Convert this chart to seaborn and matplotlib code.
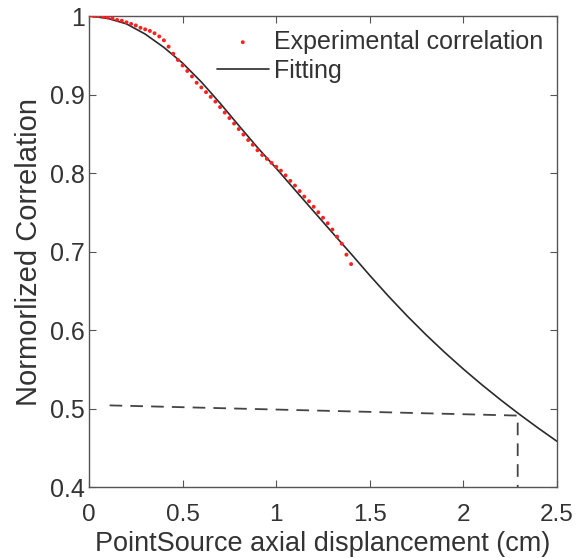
import numpy as np
import pandas as pd
import matplotlib
matplotlib.use("Agg")
import matplotlib.pyplot as plt
import seaborn as sns

# Fitted curve
fit_x = [0.0, 0.1, 0.2, 0.3, 0.4, 0.5, 0.6, 0.7, 0.8, 0.9, 1.0, 1.1, 1.2,
         1.3, 1.4, 1.5, 1.6, 1.7, 1.8, 1.9, 2.0, 2.1, 2.2, 2.3, 2.4, 2.5]
fit_y = [1.000, 0.997, 0.990, 0.977, 0.960, 0.940, 0.916, 0.889, 0.8605,
         0.8325, 0.806, 0.7785, 0.7512, 0.724, 0.697, 0.6695, 0.643, 0.6178,
         0.594, 0.5715, 0.5502, 0.530, 0.5108, 0.4925, 0.475, 0.4582]

# Experimental correlation points
exp_x = [0.000, 0.025, 0.050, 0.075, 0.100, 0.125, 0.150, 0.175, 0.200,
         0.225, 0.250, 0.275, 0.300, 0.325, 0.350, 0.375, 0.400, 0.425,
         0.450, 0.475, 0.500, 0.525, 0.550, 0.575, 0.600, 0.625, 0.650,
         0.675, 0.700, 0.725, 0.750, 0.775, 0.800, 0.825, 0.850, 0.875,
         0.900, 0.925, 0.950, 0.975, 1.000, 1.025, 1.050, 1.075, 1.100,
         1.125, 1.150, 1.175, 1.200, 1.225, 1.250, 1.275, 1.300, 1.325,
         1.350, 1.375, 1.400]
exp_y = [1.000, 1.000, 1.000, 0.999, 0.998, 0.997, 0.995, 0.994, 0.992,
         0.990, 0.988, 0.985, 0.983, 0.981, 0.978, 0.974, 0.969, 0.961,
         0.952, 0.944, 0.937, 0.930, 0.923, 0.915, 0.909, 0.903, 0.897,
         0.891, 0.884, 0.877, 0.870, 0.863, 0.856, 0.849, 0.842, 0.836,
         0.829, 0.823, 0.818, 0.813, 0.808, 0.803, 0.797, 0.790, 0.784,
         0.777, 0.770, 0.764, 0.757, 0.750, 0.743, 0.736, 0.728, 0.719,
         0.710, 0.696, 0.684]

# Dashed guide line (half-maximum marker)
guide_x = [0.11, 2.29, 2.29]
guide_y = [0.504, 0.491, 0.400]

x_ticks = [0, 0.5, 1, 1.5, 2, 2.5]
x_tick_labels = ["0", "0.5", "1", "1.5", "2", "2.5"]
y_ticks = [0.4, 0.5, 0.6, 0.7, 0.8, 0.9, 1.0]
y_tick_labels = ["0.4", "0.5", "0.6", "0.7", "0.8", "0.9", "1"]

sns.set_theme(style="ticks")
plt.rcParams['font.family'] = ['Liberation Sans', 'DejaVu Sans']

fig = plt.figure(figsize=(5.78, 5.58), dpi=100)
ax = fig.add_axes([0.154, 0.1272, 0.8097, 0.8441])

df_exp = pd.DataFrame({"x": exp_x, "y": exp_y})
df_fit = pd.DataFrame({"x": fit_x, "y": fit_y})

sns.scatterplot(data=df_exp, x="x", y="y", ax=ax, color="#ff2020", s=8,
                edgecolor="none", label="Experimental correlation", zorder=3)
sns.lineplot(data=df_fit, x="x", y="y", ax=ax, color="#2a2a2a", linewidth=1.2,
             label="Fitting", zorder=2)
ax.plot(guide_x, guide_y, color="#444444", linewidth=1.3,
        dashes=(7, 4.5), zorder=1)

ax.set_xlim(0, 2.5)
ax.set_ylim(0.4, 1.0)
ax.set_xticks(x_ticks)
ax.set_xticklabels(x_tick_labels)
ax.set_yticks(y_ticks)
ax.set_yticklabels(y_tick_labels)

ax.tick_params(direction="in", length=5, width=0.8, colors="#555555",
               labelcolor="#333333", labelsize=18, top=True, right=True, pad=3)
ax.tick_params(axis="x", labelsize=17.5, pad=12)
for sp in ax.spines.values():
    sp.set_color("#555555")
    sp.set_linewidth(1.0)
    sp.set_visible(True)

ax.set_xlabel("PointSource axial displancement (cm)", fontsize=19.5,
              color="#333333")
ax.xaxis.set_label_coords(0.5, -0.093)
ax.set_ylabel("Normorlized Correlation", fontsize=21, color="#333333",
              labelpad=5)

leg = ax.legend(loc="upper right", frameon=False, fontsize=18,
                handlelength=2.1, handletextpad=0.2, borderaxespad=0.15,
                labelspacing=0.2, markerscale=1.0)
for t in leg.get_texts():
    t.set_color("#333333")

fig.savefig("out.png", dpi=100)
